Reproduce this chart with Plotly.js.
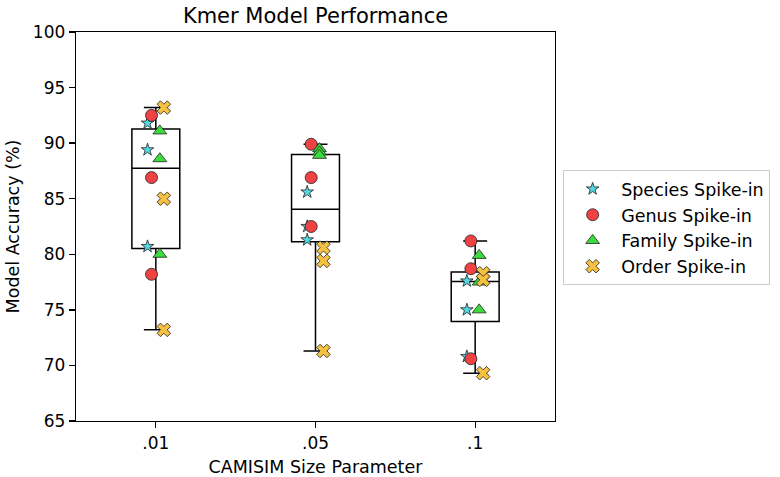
<!DOCTYPE html>
<html>
<head>
<meta charset="utf-8">
<script src="https://cdn.plot.ly/plotly-3.0.1.min.js"></script>
<style>html,body{margin:0;padding:0;background:#fff;}#chart{width:780px;height:477px;}</style>
</head>
<body>
<div id="chart"></div>
<script>
// Data
const categories = ['.01', '.05', '.1'];
const speciesSpikeIn = [[91.8, 89.4, 80.7], [85.6, 82.5, 81.3], [77.6, 75.0, 70.8]];
const genusSpikeIn   = [[92.5, 86.9, 78.2], [89.9, 86.9, 82.5], [81.2, 78.7, 70.6]];
const familySpikeIn  = [[91.1, 88.6, 80.0], [89.5, 89.2, 88.9], [79.9, 77.5, 75.0]];
const orderSpikeIn   = [[93.2, 85.0, 73.2], [80.6, 79.4, 71.3], [78.3, 77.7, 69.3]];
const seriesNames = ['Species Spike-in', 'Genus Spike-in', 'Family Spike-in', 'Order Spike-in'];
const yTicks = [65, 70, 75, 80, 85, 90, 95, 100];

const FONT = 'DejaVu Sans, sans-serif';
const allSeries = [speciesSpikeIn, genusSpikeIn, familySpikeIn, orderSpikeIn];
const styles = [
  {symbol: 'star', size: 9.5, color: '#55D8E4', offset: -0.052},
  {symbol: 'circle', size: 12, color: '#EF4343', offset: -0.027},
  {symbol: 'triangle-up', size: 12, color: '#3DDC3D', offset: 0.025},
  {symbol: 'x', size: 12, color: '#F6C040', offset: 0.05}
];

function quantile(sorted, p) {
  const pos = (sorted.length - 1) * p;
  const lo = Math.floor(pos), hi = Math.ceil(pos);
  return sorted[lo] + (sorted[hi] - sorted[lo]) * (pos - lo);
}

const q1 = [], med = [], q3 = [], lf = [], uf = [];
categories.forEach((c, gi) => {
  const vals = [];
  allSeries.forEach(s => s[gi].forEach(v => vals.push(v)));
  vals.sort((a, b) => a - b);
  const a = quantile(vals, 0.25), m = quantile(vals, 0.5), b = quantile(vals, 0.75);
  const iqr = b - a;
  const lo = vals.filter(v => v >= a - 1.5 * iqr)[0];
  const hiv = vals.filter(v => v <= b + 1.5 * iqr);
  q1.push(a); med.push(m); q3.push(b); lf.push(lo); uf.push(hiv[hiv.length - 1]);
});

const traces = [{
  type: 'box',
  x: categories.map((c, i) => i),
  q1: q1, median: med, q3: q3, lowerfence: lf, upperfence: uf,
  width: 0.3,
  whiskerwidth: 0.5,
  line: {color: '#000', width: 1.5},
  fillcolor: 'rgba(255,255,255,0)',
  showlegend: false,
  hoverinfo: 'skip'
}];

allSeries.forEach((s, si) => {
  const xs = [], ys = [];
  s.forEach((grp, gi) => grp.forEach(v => { xs.push(gi + styles[si].offset); ys.push(v); }));
  traces.push({
    type: 'scatter', mode: 'markers', name: seriesNames[si],
    x: xs, y: ys,
    marker: {symbol: styles[si].symbol, size: styles[si].size, color: styles[si].color,
             line: {color: '#222', width: 0.8}}
  });
});

const layout = {
  width: 780, height: 477,
  margin: {l: 76, r: 225, t: 32, b: 56, autoexpand: false},
  paper_bgcolor: '#fff', plot_bgcolor: '#fff',
  font: {family: FONT, size: 17, color: '#000'},
  title: {text: 'Kmer Model Performance', font: {family: FONT, size: 21, color: '#000'},
          x: 0.4045, xanchor: 'center', y: 0.968, yanchor: 'middle'},
  xaxis: {
    range: [-0.5, 2.5], tickvals: [0, 1, 2], ticktext: categories,
    showgrid: false, zeroline: false, showline: true, mirror: true,
    linecolor: '#000', linewidth: 1.3, ticks: 'outside', ticklen: 6, tickwidth: 1.3, tickcolor: '#000',
    tickfont: {family: FONT, size: 17},
    title: {text: 'CAMISIM Size Parameter', font: {family: FONT, size: 17.5}, standoff: 10}
  },
  yaxis: {
    range: [65, 100], tickvals: yTicks,
    showgrid: false, zeroline: false, showline: true, mirror: true,
    linecolor: '#000', linewidth: 1.3, ticks: 'outside', ticklen: 6, tickwidth: 1.3, tickcolor: '#000',
    tickfont: {family: FONT, size: 17},
    title: {text: 'Model Accuracy (%)', font: {family: FONT, size: 17.5}, standoff: 8}
  },
  legend: {
    x: 1.017, xanchor: 'left', y: 0.645, yanchor: 'top',
    bordercolor: '#cccccc', borderwidth: 1, bgcolor: '#fff',
    font: {family: FONT, size: 17.5}, itemwidth: 47, tracegroupgap: 0
  },
  showlegend: true
};

Plotly.newPlot('chart', traces, layout, {displayModeBar: false, staticPlot: true});
</script>
</body>
</html>
